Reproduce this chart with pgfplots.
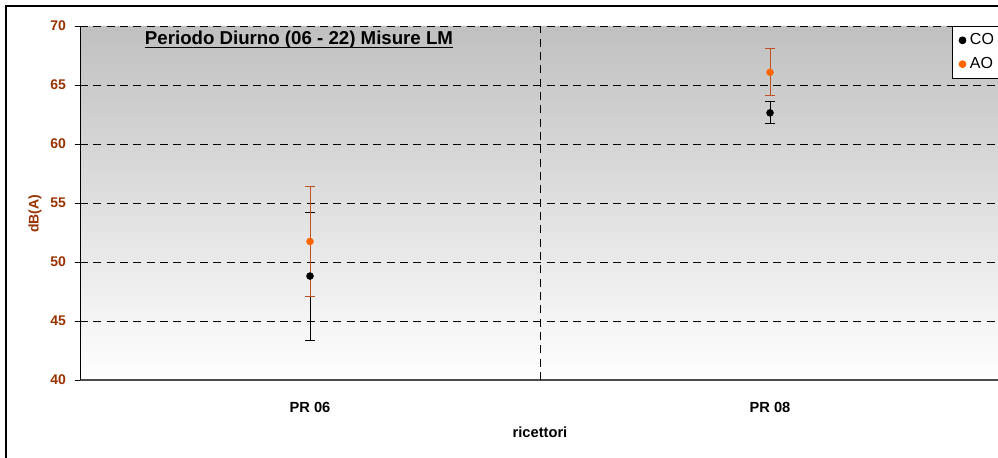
\documentclass[border=0pt]{standalone}
\usepackage{pgfplots}
\pgfplotsset{compat=1.18}
\usepackage{fontspec}
\setmainfont{Liberation Sans}
\definecolor{brn}{RGB}{153,51,0}
\definecolor{org}{RGB}{255,102,0}
\definecolor{errb}{RGB}{192,80,32}
\definecolor{bgtop}{RGB}{192,192,192}
\begin{document}
\begin{tikzpicture}
\useasboundingbox (0,0) rectangle (748.5pt,-342.75pt);
\clip (0,0) rectangle (748.5pt,-342.75pt);
\fill[white] (0,0) rectangle (748.5pt,-342.75pt);
\draw[black, line width=1.2pt] (4.5pt,-4.5pt) rectangle (757.5pt,-352.5pt);
\begin{axis}[
  at={(60pt,-285pt)}, anchor=south west,
  scale only axis, width=690pt, height=265.5pt,
  xmin=-0.5, xmax=1.5, ymin=40, ymax=70,
  ytick={40,45,...,70},
  xtick={0,1}, xticklabels={PR 06, PR 08},
  major x tick style={draw=none},
  extra x ticks={0.5}, extra x tick labels={},
  extra x tick style={grid=major, major tick length=6pt, tick style={draw=black, line width=0.6pt}},
  axis x line*=bottom, axis y line*=left,
  axis line style={-},
  x axis line style={draw=black!70, line width=1.4pt},
  y axis line style={draw=black, line width=0.75pt},
  tick align=outside,
  major tick length=4pt,
  ytick style={draw=black, line width=0.6pt},
  ymajorgrids=true,
  major grid style={black, dash pattern=on 6pt off 4pt, line width=0.6pt},
  axis background/.style={shade, top color=bgtop, bottom color=white},
  /pgf/number format/assume math mode=true,
  yticklabel style={font=\bfseries\fontsize{10.5}{12}\selectfont, text=brn, xshift=-3pt},
  xticklabel style={font=\bfseries\fontsize{11}{13}\selectfont, yshift=-9pt},
  xlabel={ricettori},
  xlabel style={font=\bfseries\fontsize{11}{13}\selectfont, at={(axis description cs:0.5,0)}, anchor=center, yshift=-39pt},
  ylabel={dB(A)},
  ylabel style={font=\bfseries\fontsize{10.5}{12}\selectfont, text=brn, at={(axis description cs:-0.0489,0.47)}, anchor=center},
  legend style={at={(0.9478,1)}, anchor=north west, draw=black, fill=white,
    font=\fontsize{12}{14}\selectfont, row sep=4pt, inner xsep=5pt, inner ysep=3.5pt, line width=0.6pt,
    nodes={inner xsep=3pt}},
  legend cell align=left,
  legend image code/.code={\draw[#1] plot coordinates {(0.15cm,0cm)};},
]
\addplot[only marks, mark=*, mark size=2.6pt, mark options={draw=black, fill=black},
  error bars/.cd, y dir=both, y explicit,
  error bar style={black, line width=0.75pt},
  error mark options={rotate=90, mark size=3.5pt, black, line width=0.75pt}]
  coordinates {(0,48.81) +- (0,5.42) (1,62.64) +- (0,0.92)};
\addlegendentry{CO\hspace{12pt}}
\addplot[only marks, mark=*, mark size=2.6pt, mark options={draw=org, fill=org},
  error bars/.cd, y dir=both, y explicit,
  error bar style={errb, line width=0.75pt},
  error mark options={rotate=90, mark size=3.5pt, errb, line width=0.75pt}]
  coordinates {(0,51.74) +- (0,4.68) (1,66.08) +- (0,2.0)};
\addlegendentry{AO\hspace{12pt}}
\end{axis}
\node[anchor=base, inner sep=0pt, font=\bfseries\fontsize{14}{16}\selectfont] (t) at (224.25pt,-33pt) {Periodo Diurno (06 - 22) Misure LM};
\draw[line width=1.1pt] ([yshift=-2.6pt]t.base west) -- ([yshift=-2.6pt]t.base east);
\end{tikzpicture}
\end{document}
